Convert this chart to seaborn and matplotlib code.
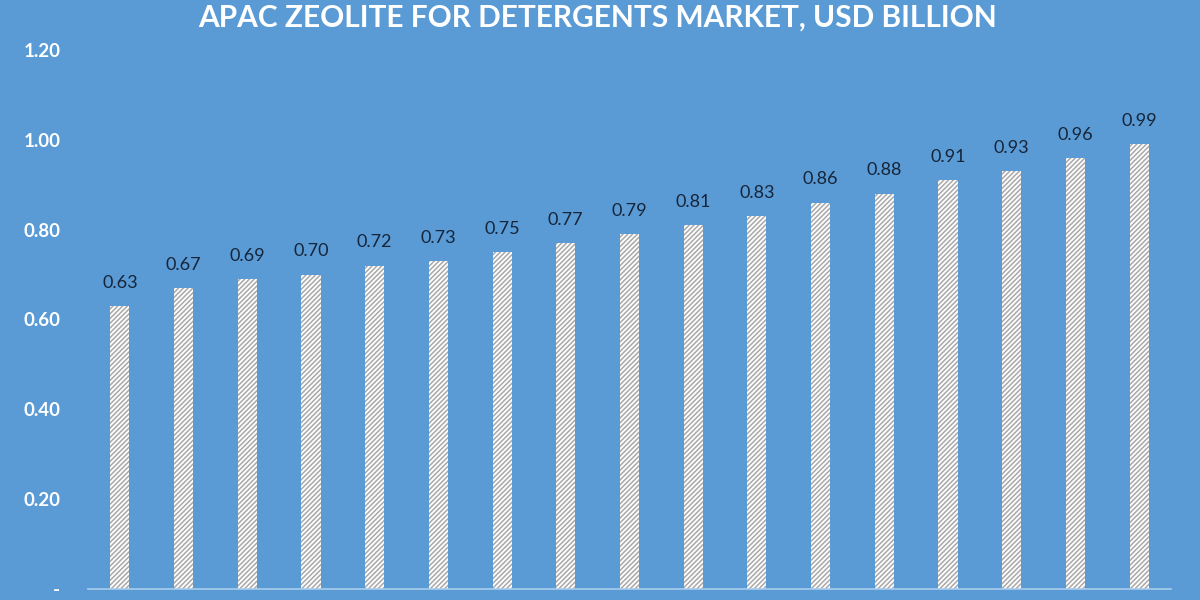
import numpy as np
import pandas as pd
import seaborn as sns
import matplotlib.pyplot as plt

values = [0.63, 0.67, 0.69, 0.70, 0.72, 0.73, 0.75, 0.77, 0.79,
          0.81, 0.83, 0.86, 0.88, 0.91, 0.93, 0.96, 0.99]
years = [str(y) for y in range(2017, 2017 + len(values))]
yticks = [0, 0.2, 0.4, 0.6, 0.8, 1.0, 1.2]
ytick_labels = ["-", "0.20", "0.40", "0.60", "0.80", "1.00", "1.20"]

bg = "#5B9BD5"
sns.set_theme(style="white")
plt.rcParams['font.family'] = ['Lato', 'DejaVu Sans']
plt.rcParams['hatch.linewidth'] = 1.1

df = pd.DataFrame({"year": years, "value": values})

fig = plt.figure(figsize=(12, 6), dpi=100, facecolor=bg)
ax = fig.add_axes([88/1200, 1 - 589/600, (1171 - 88)/1200, (589 - 50)/600])
ax.set_facecolor(bg)

sns.barplot(data=df, x="year", y="value", color="white", width=0.3,
            saturation=1, ax=ax)
for p in ax.patches:
    p.set_hatch("///////")
    p.set_edgecolor("#a8a8a8")
    p.set_linewidth(0)

ax.bar_label(ax.containers[0], labels=[f"{v:.2f}" for v in values],
             padding=11, fontsize=13, color="#15253a")

ax.set_ylim(0, 1.2)
ax.set_yticks(yticks)
ax.set_yticklabels(ytick_labels, color="white", fontsize=13.5, fontweight="bold")
ax.tick_params(axis="y", length=0, pad=20)
ax.tick_params(axis="x", length=0, labelbottom=False)
ax.set_xlabel("")
ax.set_ylabel("")
for s in ["top", "right", "left"]:
    ax.spines[s].set_visible(False)
ax.spines["bottom"].set_color("#a9cdee")
ax.spines["bottom"].set_linewidth(1.2)

fig.text(0.498, 1 - 4/600, "APAC ZEOLITE FOR DETERGENTS MARKET, USD BILLION",
         ha="center", va="top", color="white", fontsize=21.5, fontweight="bold")

fig.savefig("out.png", dpi=100, facecolor=bg)
